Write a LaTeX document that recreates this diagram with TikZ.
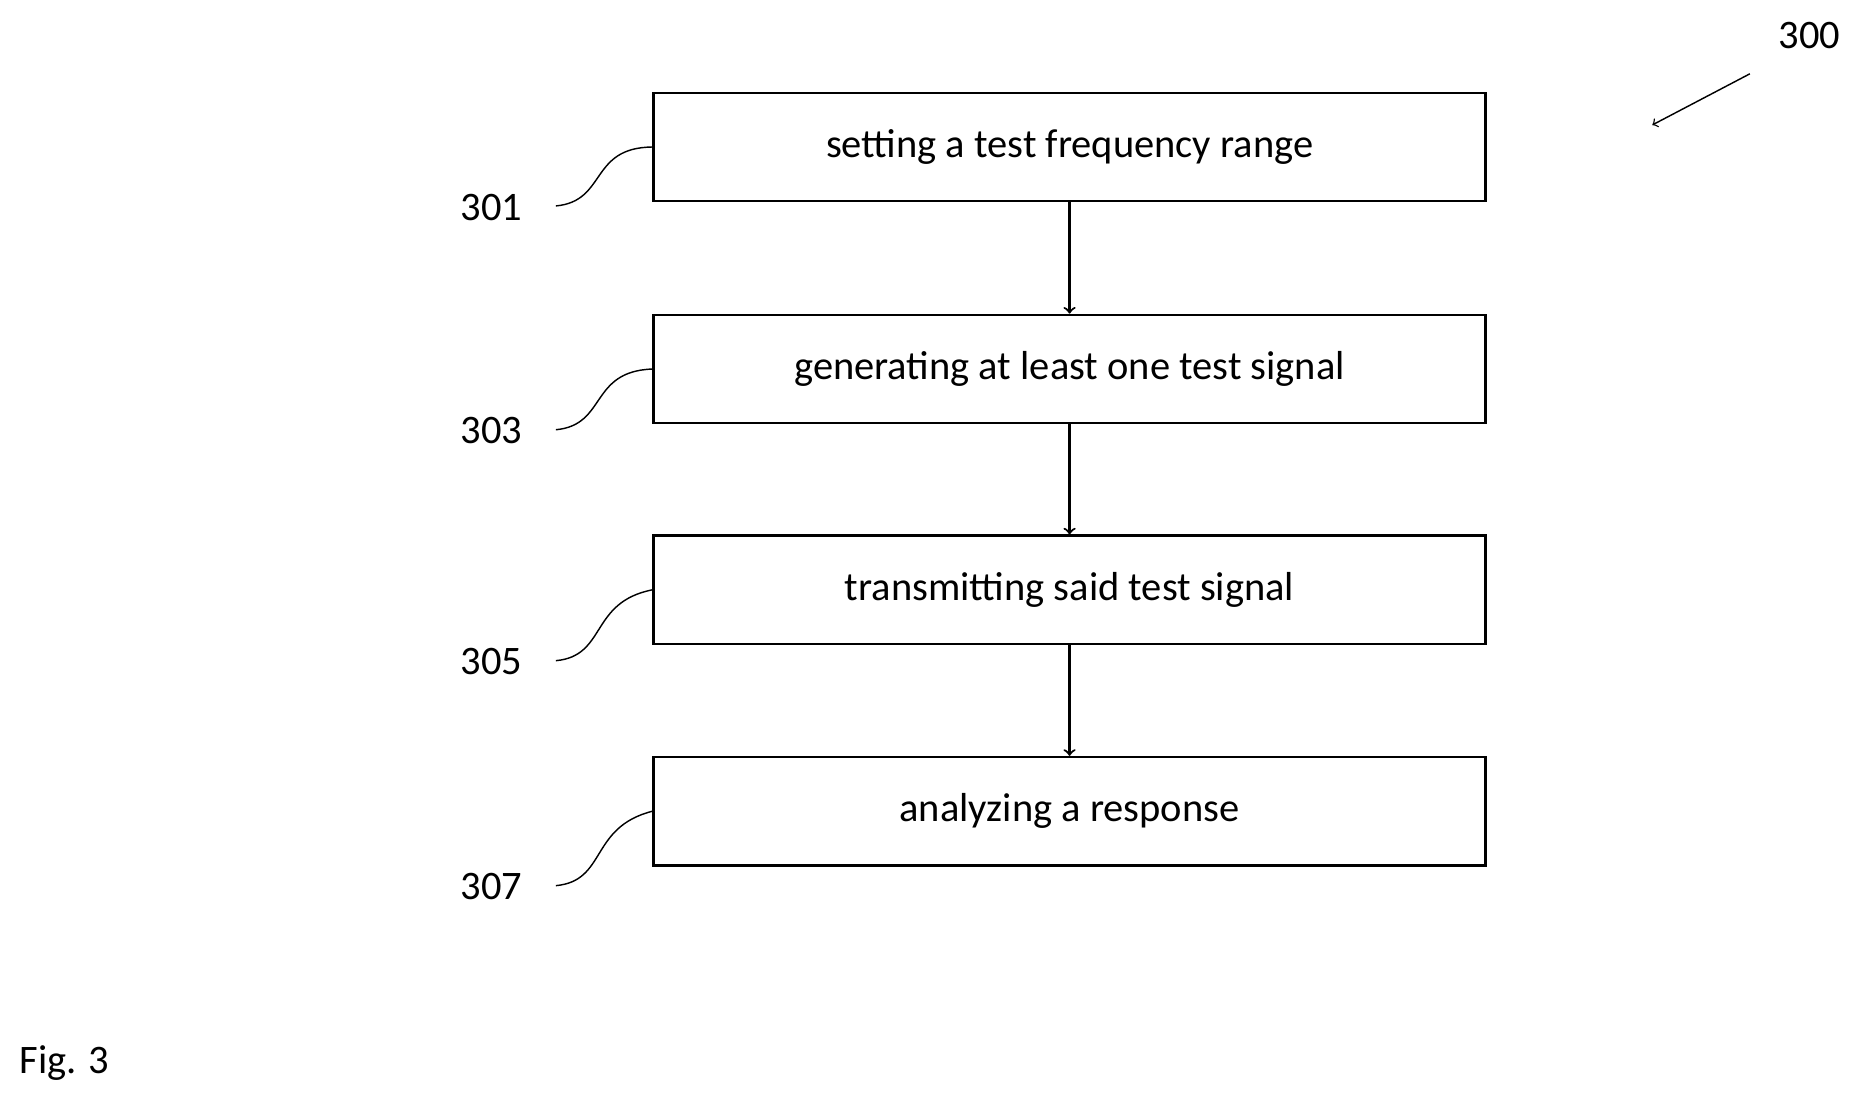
\documentclass[tikz,border=0pt]{standalone}
\usepackage{fontspec}
\setmainfont{Carlito}
\usetikzlibrary{positioning}
\tikzset{
  stage/.style={draw, line width=1pt, minimum width=349.5pt, minimum height=45.5pt, inner sep=0pt, font=\fontsize{17}{20}\selectfont},
  ref/.style={font=\fontsize{17}{20}\selectfont, inner sep=1pt},
  flow/.style={->, line width=0.9pt, >=to},
  lead/.style={line width=0.6pt}
}
\begin{document}
\begin{tikzpicture}[x=0.5pt,y=0.5pt,yscale=-1]
\useasboundingbox (0,0) rectangle (1560,926);

% steps
\node[stage] (s301) at (898.5,123.5) {setting a test frequency range};
\node[stage] (s303) at (898.5,310) {generating at least one test signal};
\node[stage] (s305) at (898.5,495.5) {transmitting said test signal};
\node[stage] (s307) at (898.5,681.5) {analyzing a response};

% flow arrows
\draw[flow] (s301) -- (s303);
\draw[flow] (s303) -- (s305);
\draw[flow] (s305) -- (s307);

% reference numerals
\foreach \n/\y in {301/174,303/362,305/556,307/745}{
  \node[ref, anchor=east] (r\n) at (441,\y) {\n};
  \coordinate (c\n) at (467,\y-1);
  \draw[lead] (c\n) .. controls (510,\y-5) and (495,\y-50) .. (s\n.west);
}

% figure numeral
\node[ref] (r300) at (1520,30) {300};
\coordinate (c300) at (1470,62);
\coordinate (e300) at (1388,105);
\draw[flow, line width=0.6pt] (c300) -- (e300);

\node[ref, anchor=west] (fig) at (14,893) {Fig. 3};
\end{tikzpicture}
\end{document}
